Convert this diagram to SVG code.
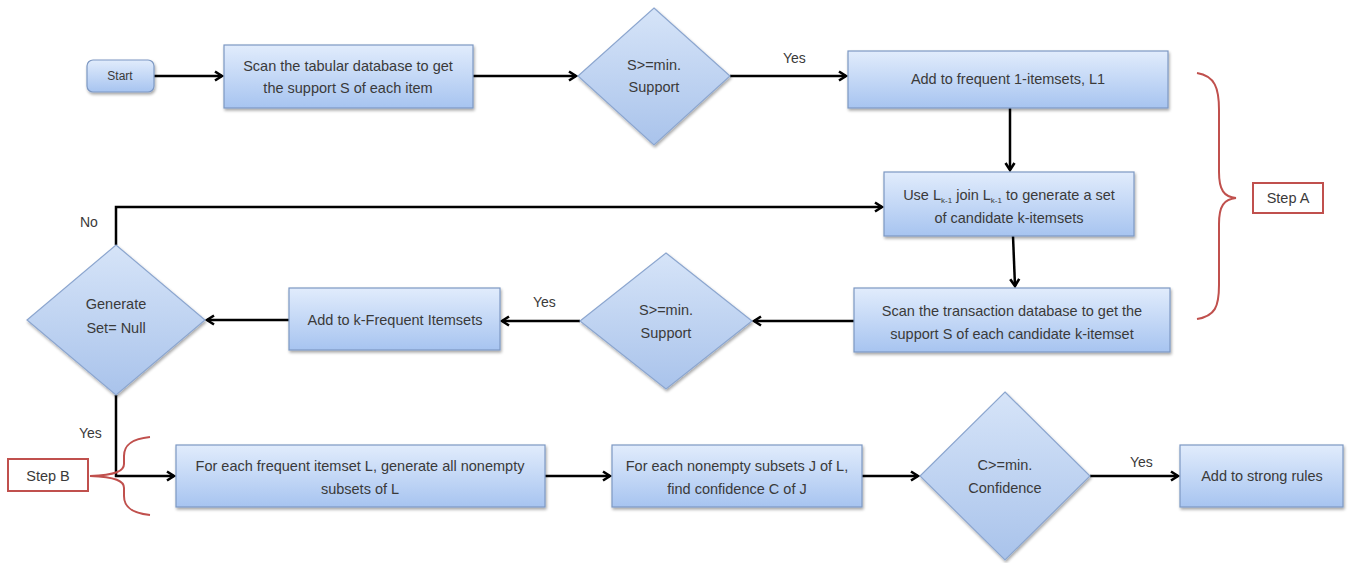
<svg xmlns="http://www.w3.org/2000/svg" width="1350" height="563" viewBox="0 0 1350 563">
<defs>
<linearGradient id="gBox" x1="0" y1="0" x2="0" y2="1">
<stop offset="0" stop-color="#e1ecfc"/>
<stop offset="1" stop-color="#a7c4f0"/>
</linearGradient>
<linearGradient id="gDia" x1="0" y1="0" x2="0" y2="1">
<stop offset="0" stop-color="#d6e4f8"/>
<stop offset="1" stop-color="#a9c3eb"/>
</linearGradient>
<filter id="sh" x="-10%" y="-10%" width="130%" height="140%">
<feGaussianBlur in="SourceAlpha" stdDeviation="1.5"/>
<feOffset dx="1" dy="2" result="o"/>
<feComponentTransfer><feFuncA type="linear" slope="0.35"/></feComponentTransfer>
<feMerge><feMergeNode/><feMergeNode in="SourceGraphic"/></feMerge>
</filter>
<marker id="arr" markerWidth="12" markerHeight="12" viewBox="0 0 12 12" refX="10" refY="6" orient="auto" markerUnits="userSpaceOnUse">
<path d="M3,1.5 L10,6 L3,10.5" fill="none" stroke="#000" stroke-width="2.6" stroke-linejoin="miter"/>
</marker>
</defs>
<style>
.box{fill:url(#gBox);stroke:#7d98c3;stroke-width:1.2;filter:url(#sh)}
.dia{fill:url(#gDia);stroke:#8ca6cf;stroke-width:1.2;filter:url(#sh)}
.t{font-family:"Liberation Sans",Arial,sans-serif;font-size:14.5px;fill:#3a3a3a;text-anchor:middle}
.lbl{font-family:"Liberation Sans",Arial,sans-serif;font-size:14px;fill:#3a3a3a}
.c{fill:none;stroke:#000;stroke-width:2.5}
.ca{fill:none;stroke:#000;stroke-width:2.5;marker-end:url(#arr)}
.brace{fill:none;stroke:#c0504d;stroke-width:2}
.step{fill:#fff;stroke:#c0504d;stroke-width:2}
</style>
<rect width="1350" height="563" fill="#fff"/>

<g id="connectors">
<line class="ca" x1="154" y1="76" x2="222" y2="76"/>
<line class="ca" x1="473" y1="76" x2="576" y2="76"/>
<line class="ca" x1="730" y1="76" x2="846" y2="76"/>
<line class="ca" x1="1010" y1="108" x2="1010" y2="170"/>
<polyline class="ca" points="116,245 116,207 882,207"/>
<line class="ca" x1="1013" y1="236" x2="1015" y2="286"/>
<line class="ca" x1="854" y1="321" x2="754" y2="321"/>
<line class="ca" x1="580" y1="321" x2="502" y2="321"/>
<line class="ca" x1="289" y1="320" x2="207" y2="320"/>
<polyline class="ca" points="116,395 116,476 174,476"/>
<line class="ca" x1="545" y1="476" x2="610" y2="476"/>
<line class="ca" x1="862" y1="476" x2="918" y2="476"/>
<line class="ca" x1="1090" y1="476" x2="1178" y2="476"/>
<text class="lbl" x="783" y="63">Yes</text>
<text class="lbl" x="80" y="227">No</text>
<text class="lbl" x="533" y="307">Yes</text>
<text class="lbl" x="79" y="438">Yes</text>
<text class="lbl" x="1130" y="467">Yes</text>
</g>

<g id="start">
<rect class="box" x="87" y="60" width="67" height="32" rx="6"/>
<text class="t" x="120" y="80" style="font-size:12px">Start</text>
</g>

<g id="scan-tabular">
<rect class="box" x="224" y="45" width="249" height="63"/>
<text class="t" x="348" y="71">Scan the tabular database to get</text>
<text class="t" x="348" y="93">the support S of each item</text>
</g>

<g id="decision-support-1">
<polygon class="dia" points="654,8 730,76 654,145 578,76"/>
<text class="t" x="654" y="70">S&gt;=min.</text>
<text class="t" x="654" y="92">Support</text>
</g>

<g id="add-l1">
<rect class="box" x="848" y="51" width="320" height="57"/>
<text class="t" x="1008" y="84">Add to frequent 1-itemsets, L1</text>
</g>

<g id="join">
<rect class="box" x="884" y="172" width="250" height="64"/>
<text class="t" x="1009" y="200">Use L<tspan font-size="8" dy="3">k-1</tspan><tspan dy="-3"> join L</tspan><tspan font-size="8" dy="3">k-1</tspan><tspan dy="-3"> to generate a set</tspan></text>
<text class="t" x="1009" y="223">of candidate k-itemsets</text>
</g>

<g id="scan-transaction">
<rect class="box" x="854" y="288" width="316" height="64"/>
<text class="t" x="1012" y="316">Scan the transaction database to get the</text>
<text class="t" x="1012" y="339">support S of each candidate k-itemset</text>
</g>

<g id="decision-support-2">
<polygon class="dia" points="666,253 752,321 666,389 580,321"/>
<text class="t" x="666" y="315">S&gt;=min.</text>
<text class="t" x="666" y="338">Support</text>
</g>

<g id="add-k-frequent">
<rect class="box" x="289" y="288" width="211" height="62"/>
<text class="t" x="395" y="325">Add to k-Frequent Itemsets</text>
</g>

<g id="decision-null">
<polygon class="dia" points="116,245 205,320 116,395 27,320"/>
<text class="t" x="116" y="309">Generate</text>
<text class="t" x="116" y="333">Set= Null</text>
</g>

<g id="gen-subsets">
<rect class="box" x="176" y="445" width="369" height="62"/>
<text class="t" x="360" y="471">For each frequent itemset L, generate all nonempty</text>
<text class="t" x="360" y="494">subsets of L</text>
</g>

<g id="confidence">
<rect class="box" x="612" y="445" width="250" height="62"/>
<text class="t" x="737" y="471">For each nonempty subsets J of L,</text>
<text class="t" x="737" y="494">find confidence C of J</text>
</g>

<g id="decision-confidence">
<polygon class="dia" points="1005,392 1090,476 1005,560 920,476"/>
<text class="t" x="1005" y="470">C&gt;=min.</text>
<text class="t" x="1005" y="493">Confidence</text>
</g>

<g id="strong-rules">
<rect class="box" x="1180" y="445" width="163" height="62"/>
<text class="t" x="1262" y="481">Add to strong rules</text>
</g>

<g id="step-a">
<path class="brace" d="M1197,73 C1215,76 1219,88 1219,110 L1219,172 C1219,190 1224,197 1236,198 C1224,199 1219,206 1219,224 L1219,285 C1219,307 1215,316 1197,319"/>
<rect class="step" x="1253" y="183" width="70" height="30"/>
<text class="t" x="1288" y="203">Step A</text>
</g>

<g id="step-b">
<path class="brace" d="M150,437 C130,439 124,446 124,456 L124,464 C124,471 116,475 90,476 C116,477 124,481 124,488 L124,496 C124,506 130,513 150,515"/>
<rect class="step" x="8" y="459" width="80" height="32"/>
<text class="t" x="48" y="481">Step B</text>
</g>
</svg>
